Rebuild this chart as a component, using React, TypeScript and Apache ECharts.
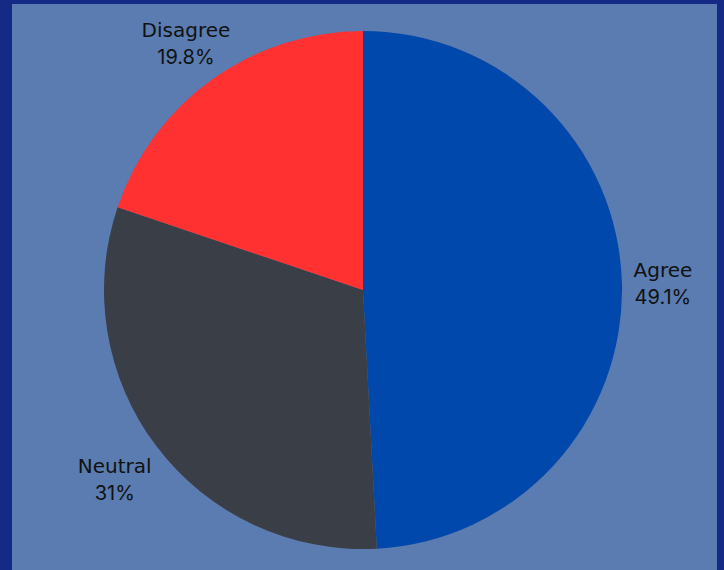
import React, { useEffect, useRef } from "react";
import * as echarts from "echarts";

const categories = ["Agree", "Neutral", "Disagree"];
const values = [49.1, 31, 19.8];
const colors = ["#0048ab", "#393e47", "#ff3131"];

export default function App() {
  const ref = useRef<HTMLDivElement>(null);
  useEffect(() => {
    if (!ref.current) return;
    const chart = echarts.init(ref.current, null, { renderer: "svg" });
    const labelShift: Record<number, { dx: number; dy: number }> = {
      0: { dx: -12, dy: 0 },
      1: { dx: 11, dy: 33 },
      2: { dx: 27, dy: -36 },
    };
    chart.setOption({
      animation: false,
      backgroundColor: "#5a7cb0",
      series: [
        {
          type: "pie",
          center: [351, 286],
          radius: [0, 259],
          startAngle: 90,
          clockwise: true,
          avoidLabelOverlap: false,
          data: categories.map((c, i) => ({
            name: c,
            value: values[i],
            itemStyle: { color: colors[i] },
          })),
          label: {
            show: true,
            position: "outside",
            formatter: (p: any) => `{n|${p.name}}\n{v|${p.value}%}`,
            rich: {
              n: {
                width: 96,
                align: "center",
                lineHeight: 27,
                fontSize: 20,
                fontFamily: "'DejaVu Sans', sans-serif",
                color: "#111111",
              },
              v: {
                width: 96,
                align: "center",
                lineHeight: 27,
                fontSize: 20,
                fontFamily: "Inter, sans-serif",
                color: "#111111",
              },
            },
          },
          labelLine: { show: false, length: 0, length2: 0 },
          labelLayout: (params: any) => labelShift[params.dataIndex] || {},
          emphasis: { disabled: true },
        },
      ],
    });
    return () => chart.dispose();
  }, []);
  return (
    <div
      style={{
        position: "fixed",
        left: 0,
        top: 0,
        width: 724,
        height: 570,
        background: "#142a84",
        overflow: "hidden",
      }}
    >
      <div
        ref={ref}
        style={{ position: "absolute", left: 12, top: 4, width: 705, height: 566 }}
      />
    </div>
  );
}
